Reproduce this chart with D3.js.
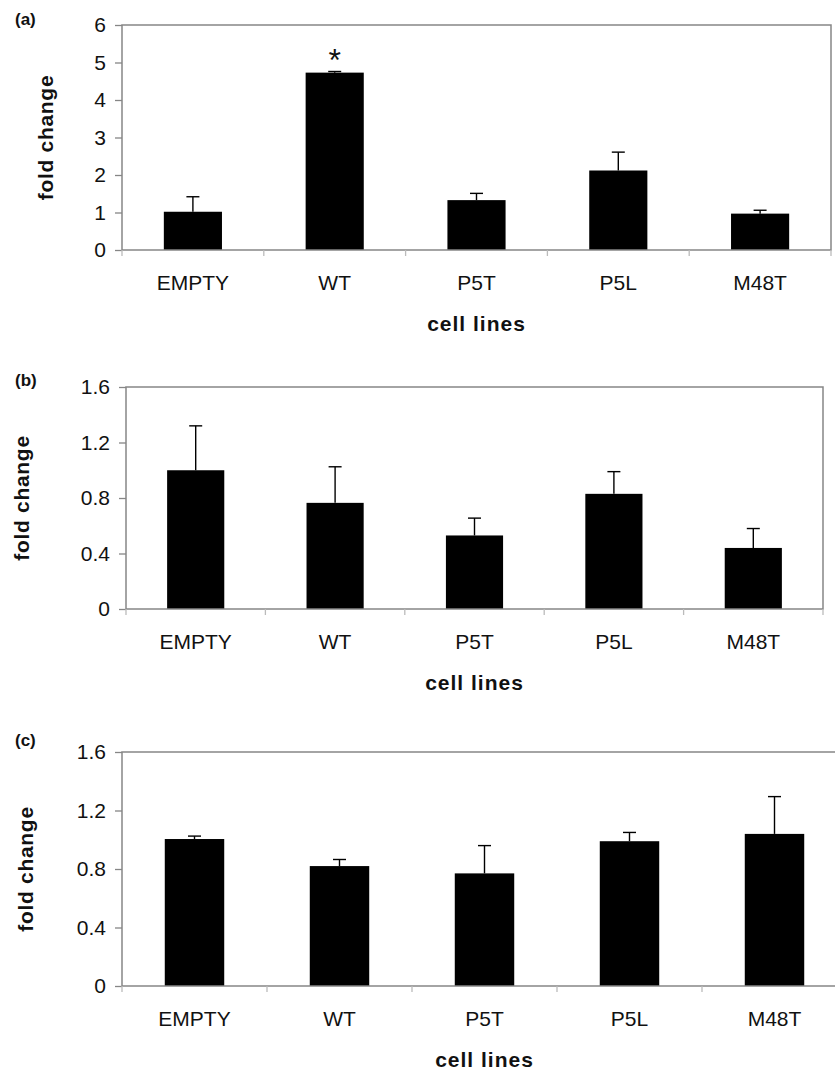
<!DOCTYPE html>
<html>
<head>
<meta charset="utf-8">
<script src="https://cdn.jsdelivr.net/npm/d3@7"></script>
<style>
  body { margin: 0; background: #fff; }
  svg { display: block; }
  text { font-family: "Liberation Sans", Arial, sans-serif; fill: #111; }
</style>
</head>
<body>
<div id="chart"></div>
<script>
// cell lines on the x axis
const categories = ["EMPTY", "WT", "P5T", "P5L", "M48T"]

// (a)
const meanA = [1.02, 4.73, 1.33, 2.12, 0.97]
const errA = [0.40, 0.03, 0.18, 0.49, 0.09]
const markA = ["", "*", "", "", ""]
const ticksA = [0, 1, 2, 3, 4, 5, 6]

// (b)
const meanB = [1.0, 0.765, 0.53, 0.83, 0.44]
const errB = [0.32, 0.26, 0.125, 0.16, 0.14]
const ticksB = [0, 0.4, 0.8, 1.2, 1.6]

// (c)
const meanC = [1.005, 0.82, 0.77, 0.99, 1.04]
const errC = [0.02, 0.045, 0.19, 0.06, 0.255]
const ticksC = [0, 0.4, 0.8, 1.2, 1.6]

var width = 835
var height = 1072

var panels = [
  { label: "(a)", labelY: 25, mean: meanA, err: errA, marks: markA, ticks: ticksA, fmt: d3.format("d"),
    left: 122, right: 831, top: 25, bottom: 250, foldX: 53 },
  { label: "(b)", labelY: 386, mean: meanB, err: errB, marks: null, ticks: ticksB, fmt: d => d === 0 ? "0" : d3.format(".1f")(d),
    left: 126, right: 823, top: 387, bottom: 609, foldX: 29 },
  { label: "(c)", labelY: 746, mean: meanC, err: errC, marks: null, ticks: ticksC, fmt: d => d === 0 ? "0" : d3.format(".1f")(d),
    left: 122, right: 847, top: 752, bottom: 986, foldX: 33 }
]

var svg = d3.select("#chart").append("svg")
  .attr("width", width)
  .attr("height", height)

var grey = "#868686"

panels.forEach(function(p) {

  var rows = categories.map((c, i) => ({ cat: c, mean: p.mean[i], err: p.err[i], mark: p.marks ? p.marks[i] : "" }))

  var x = d3.scaleBand()
    .domain(categories)
    .range([p.left, p.right])
    .padding(0)

  var y = d3.scaleLinear()
    .domain([0, p.ticks[p.ticks.length - 1]])
    .range([p.bottom, p.top])

  var barW = x.bandwidth() * 0.41
  var capW = 13

  var g = svg.append("g")

  // panel letter
  g.append("text")
    .attr("x", 15)
    .attr("y", p.labelY)
    .style("font-size", "17px")
    .style("font-weight", "bold")
    .text(p.label)

  // bars
  g.selectAll(".bar")
    .data(rows)
    .enter().append("rect")
    .attr("class", "bar")
    .attr("x", d => x(d.cat) + (x.bandwidth() - barW) / 2)
    .attr("width", barW)
    .attr("y", d => y(d.mean))
    .attr("height", d => y(0) - y(d.mean))
    .attr("fill", "#000")

  // error bars (upper only)
  var eb = g.selectAll(".err")
    .data(rows)
    .enter().append("g")
    .attr("class", "err")
    .attr("stroke", "#000")
    .attr("stroke-width", 1.4)

  eb.append("line")
    .attr("x1", d => x(d.cat) + x.bandwidth() / 2)
    .attr("x2", d => x(d.cat) + x.bandwidth() / 2)
    .attr("y1", d => y(d.mean))
    .attr("y2", d => y(d.mean + d.err))

  eb.append("line")
    .attr("x1", d => x(d.cat) + x.bandwidth() / 2 - capW / 2)
    .attr("x2", d => x(d.cat) + x.bandwidth() / 2 + capW / 2)
    .attr("y1", d => y(d.mean + d.err))
    .attr("y2", d => y(d.mean + d.err))

  // significance marks
  g.selectAll(".mark")
    .data(rows.filter(d => d.mark))
    .enter().append("text")
    .attr("class", "mark")
    .attr("x", d => x(d.cat) + x.bandwidth() / 2)
    .attr("y", d => y(d.mean + d.err) - 1)
    .attr("text-anchor", "middle")
    .style("font-size", "32px")
    .text(d => d.mark)

  // frame
  g.append("rect")
    .attr("x", p.left)
    .attr("y", p.top)
    .attr("width", p.right - p.left)
    .attr("height", p.bottom - p.top)
    .attr("fill", "none")
    .attr("stroke", grey)
    .attr("stroke-width", 1.5)

  // y axis
  var yAxis = d3.axisLeft(y)
    .tickValues(p.ticks)
    .tickFormat(p.fmt)
    .tickSize(7)
    .tickPadding(9)

  var yAxisG = g.append("g")
    .attr("transform", "translate(" + p.left + ",0)")
    .call(yAxis)

  yAxisG.select(".domain").remove()
  yAxisG.selectAll("line").attr("stroke", grey).attr("stroke-width", 1.3)
  yAxisG.selectAll("text")
    .style("font-size", "21px")
    .style("font-family", "'Liberation Sans', Arial, sans-serif")
    .attr("fill", "#111")

  // category separators below the axis
  var seps = categories.map(c => x(c)).concat([x.range()[1]])
  g.selectAll(".sep")
    .data(seps)
    .enter().append("line")
    .attr("class", "sep")
    .attr("x1", d => d)
    .attr("x2", d => d)
    .attr("y1", p.bottom)
    .attr("y2", p.bottom + 6)
    .attr("stroke", "#bbb")
    .attr("stroke-width", 1.3)

  // category labels
  g.selectAll(".cat")
    .data(categories)
    .enter().append("text")
    .attr("class", "cat")
    .attr("x", d => x(d) + x.bandwidth() / 2)
    .attr("y", p.bottom + 40)
    .attr("text-anchor", "middle")
    .style("font-size", "21px")
    .text(d => d)

  // axis titles
  g.append("text")
    .attr("x", (p.left + p.right) / 2)
    .attr("y", p.bottom + 81)
    .attr("text-anchor", "middle")
    .style("font-size", "21px")
    .style("font-weight", "bold")
    .style("letter-spacing", "1px")
    .text("cell lines")

  g.append("text")
    .attr("transform", "translate(" + p.foldX + "," + ((p.top + p.bottom) / 2) + ") rotate(-90)")
    .attr("text-anchor", "middle")
    .style("font-size", "21px")
    .style("font-weight", "bold")
    .style("letter-spacing", "0.7px")
    .text("fold change")
})
</script>
</body>
</html>
